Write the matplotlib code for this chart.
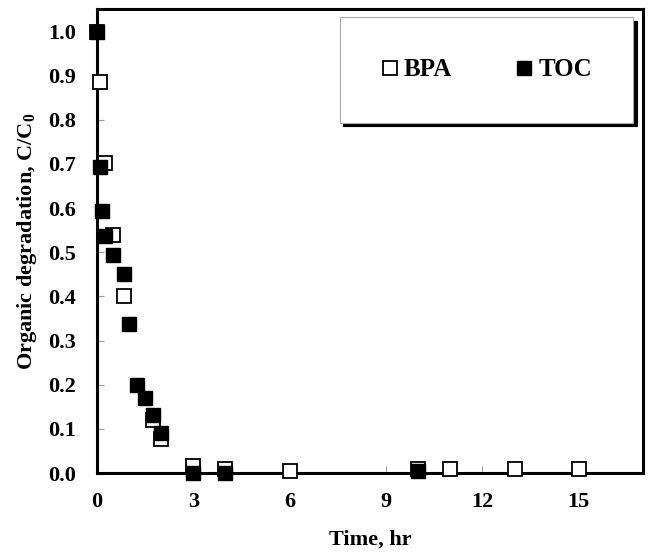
import matplotlib
matplotlib.use("Agg")
import matplotlib.pyplot as plt

plt.rcParams['font.family'] = ['Liberation Serif', 'DejaVu Serif']
plt.rcParams['font.weight'] = 'bold'
plt.rcParams['mathtext.fontset'] = 'custom'
plt.rcParams['mathtext.rm'] = 'Liberation Serif:bold'
plt.rcParams['mathtext.it'] = 'Liberation Serif:bold:italic'
plt.rcParams['mathtext.bf'] = 'Liberation Serif:bold'

# BPA (open squares)
bpa_t = [0, 0.083, 0.25, 0.5, 0.83, 1.75, 2.0, 3, 4, 6, 10, 11, 13, 15]
bpa_c = [1.0, 0.885, 0.703, 0.54, 0.40, 0.12, 0.076, 0.015, 0.01, 0.004, 0.01, 0.009, 0.009, 0.009]

# TOC (filled squares)
toc_t = [0, 0.083, 0.167, 0.25, 0.5, 0.83, 1.0, 1.25, 1.5, 1.75, 2.0, 3, 4, 10]
toc_c = [1.0, 0.694, 0.594, 0.537, 0.494, 0.451, 0.338, 0.20, 0.169, 0.131, 0.09, 0.0, 0.0, 0.005]

xticks = [0, 3, 6, 9, 12, 15]
yticks = [0.0, 0.1, 0.2, 0.3, 0.4, 0.5, 0.6, 0.7, 0.8, 0.9, 1.0]

fig = plt.figure(figsize=(6.49, 5.54), dpi=100)
ax = fig.add_axes([0.1495, 0.1462, 0.8413, 0.8367])

ax.plot(bpa_t, bpa_c, 's', ms=10.3, mfc='white', mec='black', mew=1.3,
        label='BPA', clip_on=False, zorder=3)
ax.plot(toc_t, toc_c, 's', ms=10.3, mfc='black', mec='black', mew=1.0,
        label='TOC', clip_on=False, zorder=4)

ax.set_xlim(0, 17)
ax.set_ylim(0, 1.05)
ax.set_xticks(xticks)
ax.set_yticks(yticks)
ax.set_yticklabels(['%.1f' % v for v in yticks])
ax.tick_params(direction='in', length=5, width=0.8, color='#999999',
               labelsize=16, pad=14)
ax.tick_params(axis='y', pad=15)

for s in ax.spines.values():
    s.set_linewidth(2.2)
    s.set_color('black')

ax.set_xlabel('Time, hr', fontsize=16, fontweight='bold', labelpad=12)
ax.set_ylabel('Organic degradation, C/C$_{\\mathrm{0}}$', fontsize=16,
              fontweight='bold', labelpad=7)

leg = ax.legend(loc='center', bbox_to_anchor=(0.445, 0.755, 0.537, 0.229),
                mode='expand', ncol=2, frameon=True, fancybox=False,
                borderaxespad=0, markerscale=0.95, handlelength=0.7,
                handletextpad=0.2, borderpad=1.65,
                prop={'size': 18, 'weight': 'bold'},
                shadow={'ox': 2.5, 'oy': -2.5, 'color': 'black', 'alpha': 1})
leg.get_frame().set_edgecolor('#aaaaaa')
leg.get_frame().set_linewidth(0.8)

fig.savefig('out.png', dpi=100)
